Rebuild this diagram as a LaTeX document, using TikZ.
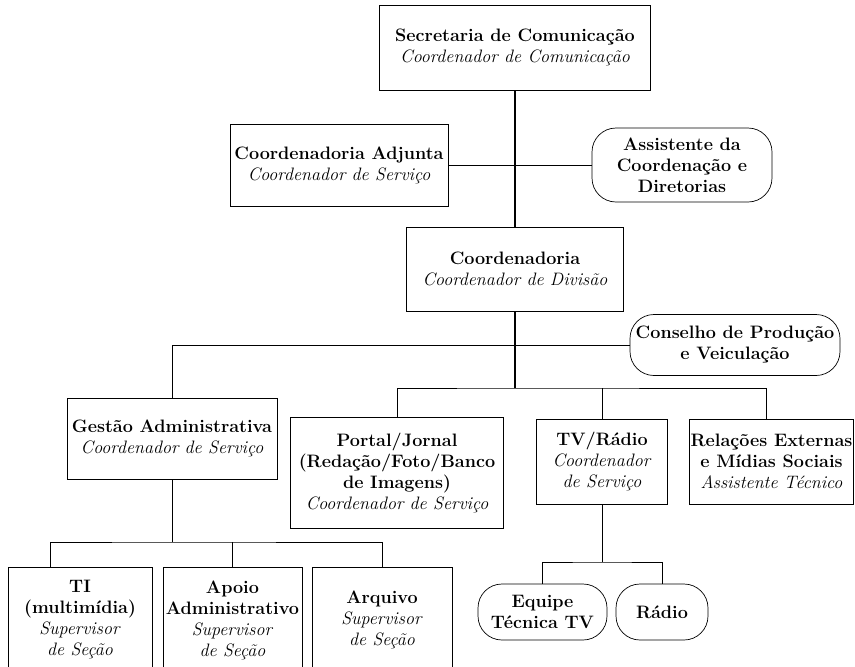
\documentclass[tikz,border=0pt]{standalone}
\usepackage{fontspec}
\usepackage{tikz}
\usetikzlibrary{calc}

\begin{document}
\begin{tikzpicture}[x=1pt,y=-1pt,
  caixa/.style={draw,line width=0.7pt,align=center,inner sep=1pt,font=\fontsize{18}{21}\selectfont},
  caixaRedonda/.style={caixa,rounded corners=24pt},
  ligacao/.style={line width=0.7pt},
  tronco/.style={line width=1.2pt}]
\useasboundingbox (0,0) rectangle (855,667);
% topo
\node[caixa,minimum width=271pt,minimum height=85pt] (sec) at (515,47.5)
  {\textbf{Secretaria de Comunicação}\\\textit{Coordenador de Comunicação}};
\node[caixa,minimum width=218pt,minimum height=82pt] (adj) at (339,165)
  {\textbf{Coordenadoria Adjunta}\\\textit{Coordenador de Serviço}};
\node[caixaRedonda,minimum width=180pt,minimum height=74pt] (ass) at (682,165)
  {\textbf{Assistente da}\\\textbf{Coordenação e}\\\textbf{Diretorias}};
\node[caixa,minimum width=217pt,minimum height=84pt] (coord) at (515,269)
  {\textbf{Coordenadoria}\\\textit{Coordenador de Divisão}};
\node[caixaRedonda,minimum width=210pt,minimum height=61pt] (cons) at (735,345)
  {\textbf{Conselho de Produção}\\\textbf{e Veiculação}};
% nivel das areas
\node[caixa,minimum width=210pt,minimum height=81pt] (gest) at (172,438.5)
  {\textbf{Gestão Administrativa}\\\textit{Coordenador de Serviço}};
\node[caixa,minimum width=213pt,minimum height=111pt] (portal) at (397,472.5)
  {\textbf{Portal/Jornal}\\\textbf{(Redação/Foto/Banco}\\\textbf{de Imagens)}\\\textit{Coordenador de Serviço}};
\node[caixa,minimum width=131pt,minimum height=85pt] (tv) at (602,461.5)
  {\textbf{TV/Rádio}\\\textit{Coordenador}\\\textit{de Serviço}};
\node[caixa,minimum width=163pt,minimum height=85pt] (rel) at (771.5,461.5)
  {\textbf{Relações Externas}\\\textbf{e Mídias Sociais}\\\textit{Assistente Técnico}};
% secoes
\node[caixa,minimum width=144pt,minimum height=106pt] (ti) at (80,620)
  {\textbf{TI}\\\textbf{(multimídia)}\\\textit{Supervisor}\\\textit{de Seção}};
\node[caixa,minimum width=139pt,minimum height=106pt] (apoio) at (232.5,620)
  {\textbf{Apoio}\\\textbf{Administrativo}\\\textit{Supervisor}\\\textit{de Seção}};
\node[caixa,minimum width=140pt,minimum height=106pt] (arq) at (382,620)
  {\textbf{Arquivo}\\\textit{Supervisor}\\\textit{de Seção}};
\node[caixaRedonda,minimum width=129pt,minimum height=56pt] (equipe) at (542.5,612)
  {\textbf{Equipe}\\\textbf{Técnica TV}};
\node[caixaRedonda,minimum width=92pt,minimum height=56pt] (radio) at (662,612)
  {\textbf{Rádio}};
% ligacoes
\coordinate (nivelA) at (515,388);
\coordinate (nivelB) at (172,542);
\coordinate (nivelC) at (602,562);
\draw[tronco] (sec.south) -- (coord.north);
\draw[ligacao] (adj.east) -- (ass.west);
\draw[tronco] (coord.south) -- (nivelA);
\draw[ligacao] (gest.north) |- (cons.west);
\draw[ligacao] (portal.north) |- (nivelA) -| ([xshift=-5.5pt]rel.north);
\draw[ligacao] (tv.north) -- (tv.north |- nivelA);
\draw[ligacao] (gest.south) -- (nivelB);
\draw[ligacao] ([xshift=-30pt]ti.north) |- (nivelB) -| (arq.north);
\draw[ligacao] (apoio.north) -- (apoio.north |- nivelB);
\draw[ligacao] (tv.south) -- (nivelC);
\draw[ligacao] (equipe.north) |- (nivelC) -| (radio.north);
\end{tikzpicture}
\end{document}
